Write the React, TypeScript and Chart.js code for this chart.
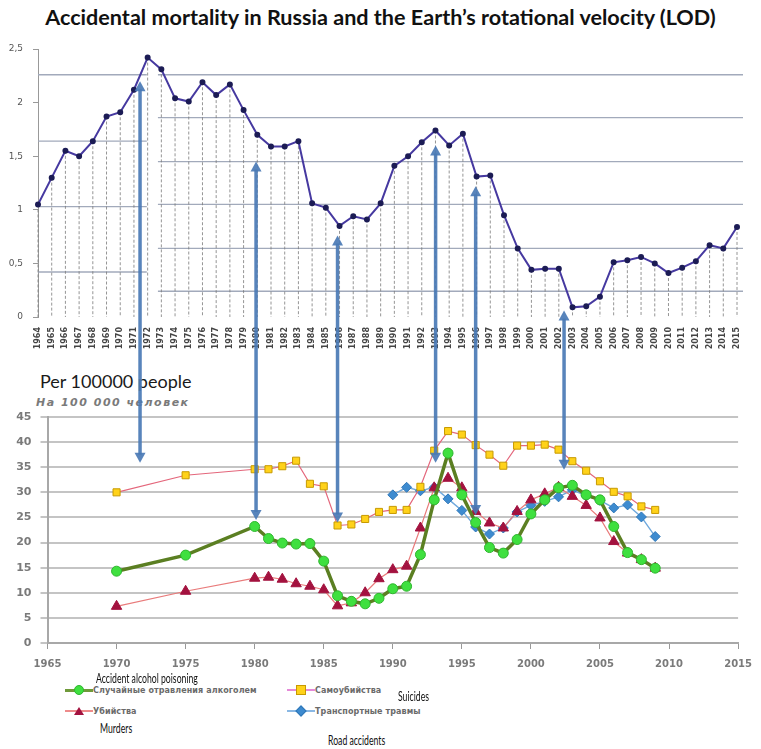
import { useEffect, useRef } from 'react';
import { Chart, registerables } from 'chart.js';

Chart.register(...registerables);

// верхний график: LOD по годам
const lodYears = [
  '1964', '1965', '1966', '1967', '1968', '1969', '1970', '1971', '1972', '1973',
  '1974', '1975', '1976', '1977', '1978', '1979', '1980', '1981', '1982', '1983',
  '1984', '1985', '1986', '1987', '1988', '1989', '1990', '1991', '1992', '1993',
  '1994', '1995', '1996', '1997', '1998', '1999', '2000', '2001', '2002', '2003',
  '2004', '2005', '2006', '2007', '2008', '2009', '2010', '2011', '2012', '2013',
  '2014', '2015',
];
const lodValues = [
  1.05, 1.3, 1.55, 1.5, 1.64, 1.87, 1.91, 2.12, 2.42, 2.31,
  2.04, 2.01, 2.19, 2.07, 2.17, 1.93, 1.7, 1.59, 1.59, 1.64,
  1.06, 1.02, 0.85, 0.94, 0.91, 1.06, 1.41, 1.5, 1.63, 1.74,
  1.6, 1.71, 1.31, 1.32, 0.95, 0.64, 0.44, 0.45, 0.45, 0.09,
  0.1, 0.19, 0.51, 0.53, 0.56, 0.5, 0.41, 0.46, 0.52, 0.67,
  0.64, 0.84,
];
const lodTicks = [0, 0.5, 1, 1.5, 2, 2.5];
const lodGuidesLeft = [2.26, 1.64, 1.03, 0.42];
const lodGuidesRight = [2.26, 1.86, 1.45, 1.05, 0.64, 0.24];

// нижний график: смертность на 100 000
const rateYears = [
  1970, 1975, 1980, 1981, 1982, 1983, 1984, 1985, 1986, 1987, 1988, 1989,
  1990, 1991, 1992, 1993, 1994, 1995, 1996, 1997, 1998, 1999, 2000, 2001,
  2002, 2003, 2004, 2005, 2006, 2007, 2008, 2009,
];
const alcoholRates = [
  14.3, 17.5, 23.2, 20.8, 19.9, 19.7, 19.8, 16.3, 9.4, 8.3, 7.8, 8.9,
  10.8, 11.3, 17.6, 28.5, 37.8, 29.5, 24.0, 19.0, 17.9, 20.6, 25.7, 28.5,
  30.9, 31.4, 29.5, 28.5, 23.2, 18.0, 16.6, 14.9,
];
const suicideRates = [
  30.0, 33.4, 34.6, 34.6, 35.2, 36.3, 31.7, 31.2, 23.4, 23.6, 24.7, 26.1,
  26.5, 26.5, 31.1, 38.3, 42.2, 41.5, 39.4, 37.5, 35.3, 39.3, 39.3, 39.5,
  38.5, 36.2, 34.3, 32.2, 30.1, 29.2, 27.2, 26.5,
];
const murderRates = [
  7.3, 10.3, 12.9, 13.1, 12.7, 11.8, 11.3, 10.6, 7.4, 8.0, 10.0, 12.8,
  14.6, 15.3, 22.9, 30.9, 32.8, 30.9, 26.2, 23.9, 22.9, 26.2, 28.5, 29.7,
  31.0, 29.2, 27.4, 24.9, 20.2, 17.9, 16.6, 14.9,
];
const roadYears = [
  1990, 1991, 1992, 1993, 1994, 1995, 1996, 1997, 1998, 1999,
  2000, 2001, 2002, 2003, 2004, 2005, 2006, 2007, 2008, 2009,
];
const roadRates = [
  29.5, 31.0, 30.3, 31.0, 28.7, 26.4, 23.1, 21.7, 22.9, 26.1,
  27.4, 28.2, 29.1, 30.5, 29.3, 28.4, 26.9, 27.5, 25.1, 21.2,
];
const seriesNames = ['Случайные отравления алкоголем', 'Самоубийства', 'Убийства', 'Транспортные травмы'];
const seriesNotes = ['Accident alcohol poisoning', 'Suicides', 'Murders', 'Road accidents'];

// стрелки: год, LOD у верхнего конца, смертность у нижнего
const arrowYears = [1971.7, 1980.1, 1986.0, 1993.1, 1996.0, 2002.4];
const arrowTopLod = [2.2, 1.45, 0.76, 1.6, 1.22, 0.06];
const arrowBottomRate = [35.9, 24.5, 24.0, 35.9, 25.5, 34.5];

const W = 761;
const H = 749;
const UPPER_TOP = 30;
const UPPER_H = 325;
const LOWER_TOP = 400;
const LOWER_H = 275;

const lodDecor = {
    id: 'lodDecor',
    beforeDatasetsDraw(chart: any) {
        const { ctx, chartArea, scales } = chart;
        const x = scales.x;
        const y = scales.y;
        ctx.save();
        ctx.strokeStyle = '#a2aabb';
        ctx.lineWidth = 1.3;
        const splitL = x.getPixelForValue(7.5);
        const splitR = x.getPixelForValue(8.75);
        lodGuidesLeft.forEach((v) => {
            const py = y.getPixelForValue(v);
            ctx.beginPath(); ctx.moveTo(chartArea.left, py); ctx.lineTo(splitL + 6, py); ctx.stroke();
        });
        lodGuidesRight.forEach((v) => {
            const py = y.getPixelForValue(v);
            ctx.beginPath(); ctx.moveTo(splitR, py); ctx.lineTo(chartArea.right + 6, py); ctx.stroke();
        });
        // пунктир от точки до оси
        ctx.setLineDash([3, 2]);
        ctx.strokeStyle = '#7a7a7a';
        ctx.lineWidth = 0.8;
        lodValues.forEach((v, i) => {
            const px = x.getPixelForValue(i);
            ctx.beginPath(); ctx.moveTo(px, y.getPixelForValue(v)); ctx.lineTo(px, y.getPixelForValue(0)); ctx.stroke();
        });
        ctx.restore();
    },
};

function Marker({ kind, fill, stroke }: { kind: string; fill: string; stroke: string }) {
    if (kind === 'triangle') {
        return <div style={{ width: 0, height: 0, borderLeft: '5px solid transparent', borderRight: '5px solid transparent', borderBottom: `8px solid ${fill}` }} />;
    }
    return (
        <div style={{
            width: kind === 'diamond' ? 6 : 8,
            height: kind === 'diamond' ? 6 : 8,
            background: fill,
            border: `1px solid ${stroke}`,
            borderRadius: kind === 'circle' ? '50%' : 0,
            transform: kind === 'diamond' ? 'rotate(45deg)' : undefined,
        }} />
    );
}

function LegendItem({ left, top, name, line, lineW, kind, fill, stroke }: any) {
    return (
        <div style={{ position: 'absolute', left, top: top - 7, height: 14, display: 'flex', alignItems: 'center' }}>
            <div style={{ position: 'relative', width: 28, height: 14 }}>
                <div style={{ position: 'absolute', left: 0, right: 0, top: 7 - lineW / 2, height: lineW, background: line }} />
                <div style={{ position: 'absolute', left: 9, top: 2, width: 10, height: 10, display: 'flex', alignItems: 'center', justifyContent: 'center' }}>
                    <Marker kind={kind} fill={fill} stroke={stroke} />
                </div>
            </div>
            <span style={{ font: 'bold 8px "DejaVu Sans", sans-serif', color: '#6a6a6a', letterSpacing: 0.1, whiteSpace: 'nowrap' }}>{name}</span>
        </div>
    );
}

function Note({ left, top, text, width }: any) {
    return (
        <div style={{ position: 'absolute', left, top: top - 9, height: 18, lineHeight: '18px', font: '14px Lato, sans-serif', color: '#111', whiteSpace: 'nowrap', transformOrigin: 'left center', transform: `scaleX(${width})` }}>
            {text}
        </div>
    );
}

export default function App() {
    const upperRef = useRef<HTMLCanvasElement>(null);
    const lowerRef = useRef<HTMLCanvasElement>(null);
    const overlayRef = useRef<HTMLCanvasElement>(null);

    useEffect(() => {
        if (!upperRef.current || !lowerRef.current || !overlayRef.current) return;

        const upper = new Chart(upperRef.current as any, {
            type: 'line',
            data: {
                labels: lodYears,
                datasets: [{
                    label: 'LOD',
                    data: lodValues,
                    borderColor: '#4639a0',
                    borderWidth: 2,
                    pointRadius: 2,
                    pointBackgroundColor: '#1c1c55',
                    pointBorderColor: '#1c1c55',
                    tension: 0,
                }],
            },
            options: {
                animation: false,
                responsive: false,
                layout: { padding: { top: 19, right: 24, left: 0, bottom: 0 } },
                plugins: { legend: { display: false }, tooltip: { enabled: false } },
                scales: {
                    x: {
                        type: 'category',
                        grid: { display: false },
                        border: { display: false },
                        ticks: {
                            autoSkip: false, maxRotation: 90, minRotation: 90, padding: 2,
                            color: '#444', font: { family: 'DejaVu Sans', size: 8, weight: 'bold' },
                        },
                        afterFit: (s: any) => { s.height = 38; },
                    },
                    y: {
                        min: 0, max: 2.5,
                        afterBuildTicks: (s: any) => { s.ticks = lodTicks.map((v) => ({ value: v })); },
                        grid: { drawOnChartArea: false, tickLength: 5, color: '#999' },
                        border: { display: true, color: '#999' },
                        ticks: {
                            padding: 10, color: '#555', font: { family: 'DejaVu Sans', size: 9 },
                            callback: (v: any) => String(v).replace('.', ','),
                        },
                        afterFit: (s: any) => { s.width = 38; },
                    },
                },
            } as any,
            plugins: [lodDecor],
        });

        const pts = (xs: number[], ys: number[]) => xs.map((x, i) => ({ x, y: ys[i] }));

        const lower = new Chart(lowerRef.current as any, {
            type: 'line',
            data: {
                datasets: [
                    {
                        label: seriesNames[1], data: pts(rateYears, suicideRates), order: 0,
                        borderColor: '#e4677c', borderWidth: 1.2,
                        pointStyle: 'rect', pointRadius: 5, pointBackgroundColor: '#ffd21a', pointBorderColor: '#c79a00', pointBorderWidth: 1,
                    },
                    {
                        label: seriesNames[0], data: pts(rateYears, alcoholRates), order: 1,
                        borderColor: '#5b7f22', borderWidth: 3.5,
                        pointStyle: 'circle', pointRadius: 5, pointBackgroundColor: '#3fe03f', pointBorderColor: '#2fb52f', pointBorderWidth: 1,
                    },
                    {
                        label: seriesNames[2], data: pts(rateYears, murderRates), order: 2,
                        borderColor: '#e97b7b', borderWidth: 1.2,
                        pointStyle: 'triangle', pointRadius: 6, pointBackgroundColor: '#a3123f', pointBorderColor: '#a3123f', pointBorderWidth: 1,
                    },
                    {
                        label: seriesNames[3], data: pts(roadYears, roadRates), order: 3,
                        borderColor: '#6fa8dc', borderWidth: 1.4,
                        pointStyle: 'rectRot', pointRadius: 5, pointBackgroundColor: '#3d8bd0', pointBorderColor: '#2f77b8', pointBorderWidth: 1,
                    },
                ],
            },
            options: {
                animation: false,
                responsive: false,
                layout: { padding: { top: 17, right: 18.5, left: 0, bottom: 0 } },
                plugins: { legend: { display: false }, tooltip: { enabled: false } },
                scales: {
                    x: {
                        type: 'linear', min: 1965, max: 2015,
                        grid: { drawOnChartArea: false, tickLength: 6, color: '#999' },
                        border: { display: true, color: '#a8a8a8', width: 2 },
                        ticks: { stepSize: 5, padding: 9, color: '#7a7a7a', font: { family: 'DejaVu Sans', size: 10, weight: 'bold' }, callback: (v: any) => String(v) },
                        afterFit: (s: any) => { s.height = 32; },
                    },
                    y: {
                        min: 0, max: 45,
                        grid: { color: '#c4c4c4', lineWidth: 2, tickLength: 7 },
                        border: { display: true, color: '#a8a8a8', width: 2 },
                        ticks: { stepSize: 5, padding: 9, color: '#7a7a7a', font: { family: 'DejaVu Sans', size: 11, weight: 'bold' } },
                        afterFit: (s: any) => { s.width = 47.5; },
                    },
                },
            } as any,
        });

        // стрелки поверх обоих графиков
        const ov = overlayRef.current;
        const dpr = window.devicePixelRatio || 1;
        ov.width = W * dpr;
        ov.height = H * dpr;
        const ctx = ov.getContext('2d')!;
        ctx.scale(dpr, dpr);
        ctx.clearRect(0, 0, W, H);
        const col = 'rgba(74, 122, 181, 0.92)';
        arrowYears.forEach((yr, i) => {
            const x = (lower.scales as any).x.getPixelForValue(yr);
            const yTop = UPPER_TOP + (upper.scales as any).y.getPixelForValue(arrowTopLod[i]);
            const yBot = LOWER_TOP + (lower.scales as any).y.getPixelForValue(arrowBottomRate[i]);
            ctx.strokeStyle = col;
            ctx.fillStyle = col;
            ctx.lineWidth = 3.5;
            ctx.beginPath(); ctx.moveTo(x, yTop + 8); ctx.lineTo(x, yBot - 8); ctx.stroke();
            ctx.beginPath(); ctx.moveTo(x, yTop); ctx.lineTo(x - 5.5, yTop + 10); ctx.lineTo(x + 5.5, yTop + 10); ctx.closePath(); ctx.fill();
            ctx.beginPath(); ctx.moveTo(x, yBot); ctx.lineTo(x - 5.5, yBot - 10); ctx.lineTo(x + 5.5, yBot - 10); ctx.closePath(); ctx.fill();
        });

        return () => {
            upper.destroy();
            lower.destroy();
        };
    }, []);

    return (
        <div style={{ position: 'absolute', left: 0, top: 0, width: W, height: H, background: '#fff', overflow: 'hidden' }}>
            <div style={{ position: 'absolute', left: 0, top: 4, width: W, textAlign: 'center', font: 'bold 21.6px Lato, sans-serif', color: '#111', whiteSpace: 'nowrap' }}>
                Accidental mortality in Russia and the Earth’s rotational velocity (LOD)
            </div>

            <canvas ref={upperRef} width={W} height={UPPER_H} style={{ position: 'absolute', left: 0, top: UPPER_TOP, width: W, height: UPPER_H }} />

            <div style={{ position: 'absolute', left: 40, top: 370, font: '18px Lato, sans-serif', color: '#1a1a1a', whiteSpace: 'nowrap' }}>
                Per 100000 people
            </div>
            <div style={{ position: 'absolute', left: 36, top: 396, font: 'italic bold 11px "DejaVu Sans", sans-serif', color: '#7a7a7a', letterSpacing: 1.5, whiteSpace: 'nowrap' }}>
                На 100 000 человек
            </div>

            <canvas ref={lowerRef} width={W} height={LOWER_H} style={{ position: 'absolute', left: 0, top: LOWER_TOP, width: W, height: LOWER_H }} />

            <LegendItem left={65} top={690} name={seriesNames[0]} line='#6f9a3a' lineW={3} kind='circle' fill='#3fe03f' stroke='#2fb52f' />
            <LegendItem left={287} top={690} name={seriesNames[1]} line='#e58ad8' lineW={2} kind='square' fill='#ffd21a' stroke='#c79a00' />
            <LegendItem left={65} top={711} name={seriesNames[2]} line='#ee8b8b' lineW={2} kind='triangle' fill='#a3123f' stroke='#a3123f' />
            <LegendItem left={287} top={711} name={seriesNames[3]} line='#8ab8e4' lineW={2} kind='diamond' fill='#3d8bd0' stroke='#2f77b8' />

            <Note left={96} top={678} text={seriesNotes[0]} width={0.62} />
            <Note left={398} top={696} text={seriesNotes[1]} width={0.62} />
            <Note left={100} top={728} text={seriesNotes[2]} width={0.62} />
            <Note left={328} top={740} text={seriesNotes[3]} width={0.62} />

            <canvas ref={overlayRef} style={{ position: 'absolute', left: 0, top: 0, width: W, height: H, pointerEvents: 'none' }} />
        </div>
    );
}
